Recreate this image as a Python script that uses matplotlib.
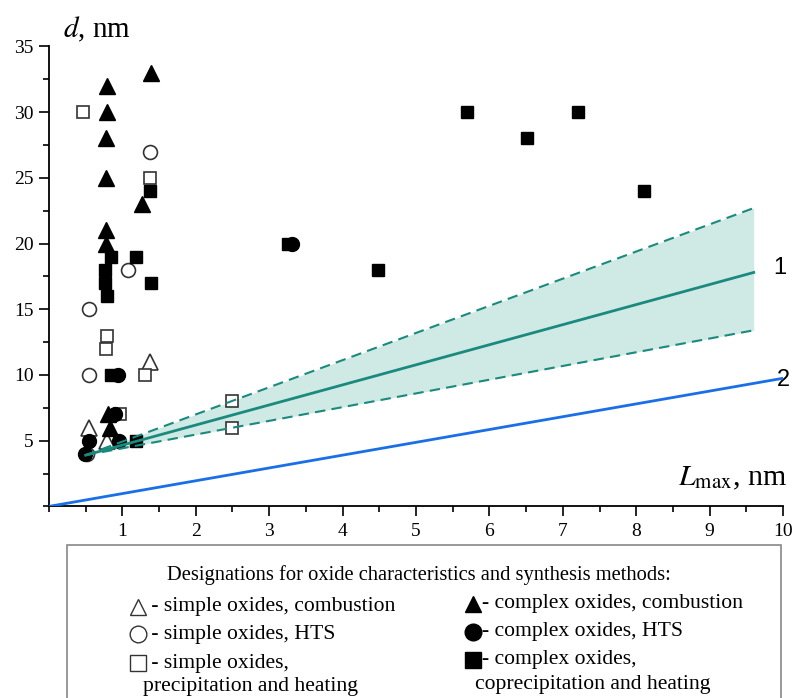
import matplotlib.pyplot as plt
from matplotlib import ticker
from matplotlib.lines import Line2D
from matplotlib.patches import Rectangle

plt.rcParams['font.family'] = ['Liberation Serif', 'DejaVu Serif']
plt.rcParams['mathtext.fontset'] = 'stix'

# simple oxides
simple_comb_x = [1.38, 0.54, 0.79]
simple_comb_y = [11, 6, 5]
simple_hts_x = [1.38, 1.07, 0.54, 0.54, 0.52]
simple_hts_y = [27, 18, 15, 10, 4]
simple_prec_x = [0.46, 1.38, 0.79, 0.78, 1.31, 0.97, 2.5, 2.5]
simple_prec_y = [30, 25, 13, 12, 10, 7, 8, 6]

# complex oxides
complex_comb_x = [1.39, 0.79, 0.79, 0.78, 0.78, 1.27, 0.78, 0.78, 0.80, 0.83]
complex_comb_y = [33, 32, 30, 28, 25, 23, 21, 20, 7, 6]
complex_hts_x = [0.54, 0.94, 0.96, 0.90, 3.31, 0.49]
complex_hts_y = [5, 10, 5, 7, 20, 4]
complex_cop_x = [1.38, 1.19, 0.84, 0.77, 0.77, 0.79, 1.39, 0.84, 1.19,
                 5.69, 6.51, 7.21, 8.11, 4.48, 3.26]
complex_cop_y = [24, 19, 19, 18, 17, 16, 17, 10, 5, 30, 28, 30, 24, 18, 20]

# model lines
line1_x = [0.5, 9.6]
line1_y = [3.9, 17.8]
line1_up = [3.9, 22.7]
line1_lo = [3.9, 13.4]
line2_x = [0, 10]
line2_y = [0, 9.75]

teal = '#1b8a7e'
blue = '#1a6fe6'

fig = plt.figure(figsize=(7.95, 6.98), dpi=100)
ax = fig.add_axes([0.0616, 0.2745, 0.9234, 0.659])

ax.fill_between(line1_x, line1_lo, line1_up, color='#cfe9e4', lw=0, zorder=1)
ax.plot(line1_x, line1_up, '--', color=teal, lw=1.5, dashes=(5, 3), zorder=4)
ax.plot(line1_x, line1_lo, '--', color=teal, lw=1.5, dashes=(5, 3), zorder=4)
ax.plot(line1_x, line1_y, '-', color=teal, lw=2, zorder=4)
ax.plot(line2_x, line2_y, '-', color=blue, lw=2, zorder=4)

open_kw = dict(ls='none', mfc='white', mec='#333333', mew=1.2, zorder=3)
fill_kw = dict(ls='none', color='black', zorder=3)
ax.plot(simple_comb_x, simple_comb_y, marker='^', ms=11, **open_kw)
ax.plot(simple_hts_x, simple_hts_y, marker='o', ms=10, **open_kw)
ax.plot(simple_prec_x, simple_prec_y, marker='s', ms=9, **open_kw)
ax.plot(complex_comb_x, complex_comb_y, marker='^', ms=11, **fill_kw)
ax.plot(complex_hts_x, complex_hts_y, marker='o', ms=10, **fill_kw)
ax.plot(complex_cop_x, complex_cop_y, marker='s', ms=9, **fill_kw)

ax.set_xlim(0, 10)
ax.set_ylim(0, 35)
ax.spines['top'].set_visible(False)
ax.spines['right'].set_visible(False)
ax.spines['left'].set_linewidth(1.3)
ax.spines['bottom'].set_linewidth(1.3)
ax.xaxis.set_major_locator(ticker.FixedLocator(range(1, 11)))
ax.xaxis.set_minor_locator(ticker.MultipleLocator(0.5))
ax.yaxis.set_major_locator(ticker.FixedLocator(range(5, 36, 5)))
ax.yaxis.set_minor_locator(ticker.MultipleLocator(2.5))
ax.tick_params(which='major', direction='out', length=7, width=1.2, labelsize=14)
ax.tick_params(which='minor', direction='out', length=4, width=1.2)
ax.tick_params(axis='x', pad=5)
ax.tick_params(axis='y', pad=4)

ax.text(9.96, 18.15, '1', fontsize=17, family='Liberation Sans', va='center', ha='center',
        clip_on=False)
ax.text(10.0, 9.6, '2', fontsize=17, family='Liberation Sans', va='center', ha='center',
        clip_on=False)

fig.text(0.079, 0.946, r'$\mathit{d}$, nm', fontsize=21, ha='left', va='baseline')
fig.text(0.99, 0.305, r'$\mathit{L}_{\mathrm{max}}$, nm', fontsize=21.5, ha='right',
         va='baseline')

# legend box
fig.add_artist(Rectangle((0.084, -0.01), 0.899, 0.229, transform=fig.transFigure,
                         fill=False, ec='#888888', lw=1.2, clip_on=False))
fig.text(0.527, 0.176, 'Designations for oxide characteristics and synthesis methods:',
         fontsize=14.8, ha='center', va='center')

entries_left = [('^', 'white', ' - simple oxides, combustion', 0.131),
                ('o', 'white', ' - simple oxides, HTS', 0.091),
                ('s', 'white', ' - simple oxides,', 0.050)]
entries_right = [('^', 'black', '- complex oxides, combustion', 0.135),
                 ('o', 'black', '- complex oxides, HTS', 0.095),
                 ('s', 'black', '- complex oxides,', 0.055)]
for mk, fc, txt, yy in entries_left:
    fig.add_artist(Line2D([0.174], [yy], marker=mk, ms=12 if mk != 's' else 11,
                          mfc=fc, mec='#333333', mew=1.0, transform=fig.transFigure))
    fig.text(0.184, yy, txt, fontsize=15.6, ha='left', va='center')
for mk, fc, txt, yy in entries_right:
    fig.add_artist(Line2D([0.595], [yy], marker=mk, ms=12 if mk != 's' else 11,
                          mfc=fc, mec='black', mew=1.0, transform=fig.transFigure))
    fig.text(0.606, yy, txt, fontsize=15.6, ha='left', va='center')
fig.text(0.180, 0.016, 'precipitation and heating', fontsize=15.6, ha='left', va='center')
fig.text(0.598, 0.020, 'coprecipitation and heating', fontsize=15.6, ha='left', va='center')

fig.savefig('out.png', dpi=100)
